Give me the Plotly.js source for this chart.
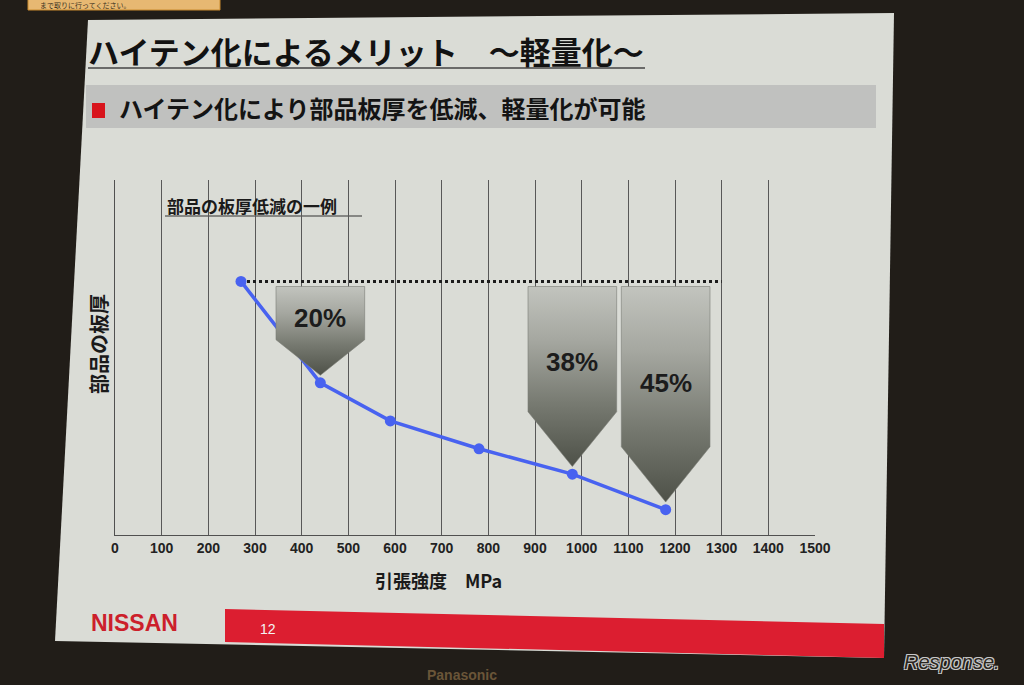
<!DOCTYPE html>
<html>
<head>
<meta charset="utf-8">
<script src="https://cdn.plot.ly/plotly-3.0.1.min.js"></script>
<style>
  html, body { margin: 0; padding: 0; background: #211d18; }
  #chart { width: 1024px; height: 685px; }
</style>
</head>
<body>
<div id="chart"></div>
<script>
// ---- data ----
const tensileStrength = [270, 440, 590, 780, 980, 1180];      // MPa
const thickness       = [1.00, 0.80, 0.725, 0.67, 0.62, 0.55]; // relative part thickness
const reductionLabels = ['20%', '38%', '45%'];
const reductionIndex  = [1, 4, 5];
const referenceEndX   = 1300;

const titleText    = 'ハイテン化によるメリット　～軽量化～';
const subtitleText = 'ハイテン化により部品板厚を低減、軽量化が可能';
const captionText  = '部品の板厚低減の一例';
const xTitleText   = '引張強度　MPa';
const yTitleText   = '部品の板厚';

// ---- layout helpers (pixel -> paper) ----
const W = 1024, H = 685;
const M = { l: 115, r: 209, t: 180, b: 150 };
const PW = W - M.l - M.r, PH = H - M.t - M.b;
const PX = p => (p - M.l) / PW;
const PY = p => (H - M.b - p) / PH;

const JP = 'Noto Sans CJK JP, Noto Sans CJK SC, sans-serif';
const LAT = 'Liberation Sans, Arial, sans-serif';

// arrow styling
const arrowHalfWidth = 95;
const arrowHeadDepth = [0.07, 0.108, 0.109];

const traces = [];

// reference dotted line
traces.push({
  x: [tensileStrength[0], referenceEndX],
  y: [thickness[0], thickness[0]],
  mode: 'lines', type: 'scatter',
  line: { color: '#1c1c1c', width: 3, dash: 'dot' },
  hoverinfo: 'skip', showlegend: false
});

// main curve
traces.push({
  x: tensileStrength, y: thickness,
  mode: 'lines+markers', type: 'scatter',
  line: { color: '#4862f0', width: 3.5 },
  marker: { color: '#4862f0', size: 11 },
  showlegend: false
});

// reduction arrows
const annotations = [];
reductionIndex.forEach((idx, k) => {
  const cx = tensileStrength[idx];
  const tip = thickness[idx] + 0.015;
  const top = thickness[0] - 0.01;
  const sh = tip + arrowHeadDepth[k];
  traces.push({
    x: [cx - arrowHalfWidth, cx + arrowHalfWidth, cx + arrowHalfWidth, cx, cx - arrowHalfWidth, cx - arrowHalfWidth],
    y: [top, top, sh, tip, sh, top],
    type: 'scatter', mode: 'lines', fill: 'toself',
    line: { color: '#7a7c76', width: 0.6 },
    fillgradient: {
      type: 'vertical',
      colorscale: [[0, '#4e5148'], [0.35, '#777a71'], [0.7, '#a5a7a0'], [1, '#c2c4be']]
    },
    hoverinfo: 'skip', showlegend: false
  });
  annotations.push({
    x: cx, y: sh + 0.4 * (top - sh), xref: 'x', yref: 'y',
    text: reductionLabels[k], showarrow: false,
    font: { family: LAT, size: 26, weight: 'bold', color: '#1c1c1c' }
  });
});

// slide texts
const ann = (px, py, text, font, xa = 'left', extra = {}) => Object.assign({
  x: PX(px), y: PY(py), xref: 'paper', yref: 'paper', text, showarrow: false,
  xanchor: xa, yanchor: 'middle', font
}, extra);

annotations.push(ann(86, 50, titleText, { family: JP, size: 31, weight: 'bold', color: '#121212' }));
annotations.push(ann(117, 107, subtitleText, { family: JP, size: 24, weight: 'bold', color: '#141414' }));
annotations.push(ann(165, 205, captionText, { family: JP, size: 17, weight: 'bold', color: '#1a1a1a' }));
annotations.push(ann(98, 344, yTitleText, { family: JP, size: 20, weight: 'bold', color: '#1a1a1a' }, 'center', { textangle: -90 }));
annotations.push(ann(438, 580, xTitleText, { family: JP, size: 18, weight: 'bold', color: '#1a1a1a' }, 'center'));
annotations.push(ann(134, 623, 'NISSAN', { family: LAT, size: 23, weight: 'bold', color: '#cc1f2b' }, 'center'));
annotations.push(ann(268, 629, '12', { family: LAT, size: 14, color: '#f4f4f4' }, 'center'));
annotations.push(ann(462, 675, 'Panasonic', { family: LAT, size: 14, weight: 'bold', color: '#6a5538' }, 'center'));
annotations.push(ann(952, 662, 'Response.', {
  family: LAT, size: 20, style: 'italic', color: '#2a2620',
  shadow: '1px 1px 0 #c8c8c8, -1px -1px 0 #c8c8c8, 1px -1px 0 #c8c8c8, -1px 1px 0 #c8c8c8'
}, 'center'));
annotations.push(ann(38, 5, 'まで取りに行ってください。', { family: JP, size: 7, color: '#3a3020' }));

const quad = pts => 'M' + pts.map(p => PX(p[0]) + ',' + PY(p[1])).join(' L') + ' Z';
const rect = (x0, y0, x1, y1, fill, extra = {}) => Object.assign({
  type: 'rect', xref: 'paper', yref: 'paper', x0: PX(x0), x1: PX(x1), y0: PY(y0), y1: PY(y1),
  fillcolor: fill, line: { width: 0 }, layer: 'below'
}, extra);

const shapes = [
  // slide
  { type: 'path', xref: 'paper', yref: 'paper', layer: 'below',
    path: quad([[88, 20], [894, 13], [884, 658], [55, 641]]),
    fillcolor: '#dadcd6', line: { width: 0 } },
  // subtitle band
  rect(86, 85, 876, 128, '#c0c1bf'),
  rect(92, 103, 105, 118, '#d8141c'),
  // title underline
  { type: 'line', xref: 'paper', yref: 'paper', layer: 'below',
    x0: PX(88), x1: PX(645), y0: PY(68), y1: PY(68), line: { color: '#444', width: 1.5 } },
  // caption underline
  { type: 'line', xref: 'paper', yref: 'paper', layer: 'below',
    x0: PX(165), x1: PX(362), y0: PY(216), y1: PY(216), line: { color: '#333', width: 1.2 } },
  // red footer bar
  { type: 'path', xref: 'paper', yref: 'paper', layer: 'below',
    path: quad([[225, 609], [884, 624], [884, 658], [225, 642]]),
    fillcolor: '#dc1e30', line: { width: 0 } },
  // yellow note at top left
  rect(28, -2, 220, 10, '#e7b872', { line: { color: '#c98a2c', width: 1 } })
];

const layout = {
  width: W, height: H,
  margin: M,
  paper_bgcolor: '#211d18',
  plot_bgcolor: 'rgba(0,0,0,0)',
  showlegend: false,
  xaxis: {
    range: [0, 1500], dtick: 100, tick0: 0,
    showgrid: true, gridcolor: '#585858', gridwidth: 1,
    showline: true, linecolor: '#505050', linewidth: 1,
    zeroline: false, ticks: '',
    tickfont: { family: LAT, size: 14, weight: 'bold', color: '#222' },
    fixedrange: true
  },
  yaxis: {
    range: [0.5, 1.2],
    showgrid: false, showticklabels: false, ticks: '',
    showline: true, linecolor: '#505050', linewidth: 1,
    zeroline: false, fixedrange: true
  },
  shapes, annotations
};

Plotly.newPlot('chart', traces, layout, { displayModeBar: false, staticPlot: true });
</script>
</body>
</html>
